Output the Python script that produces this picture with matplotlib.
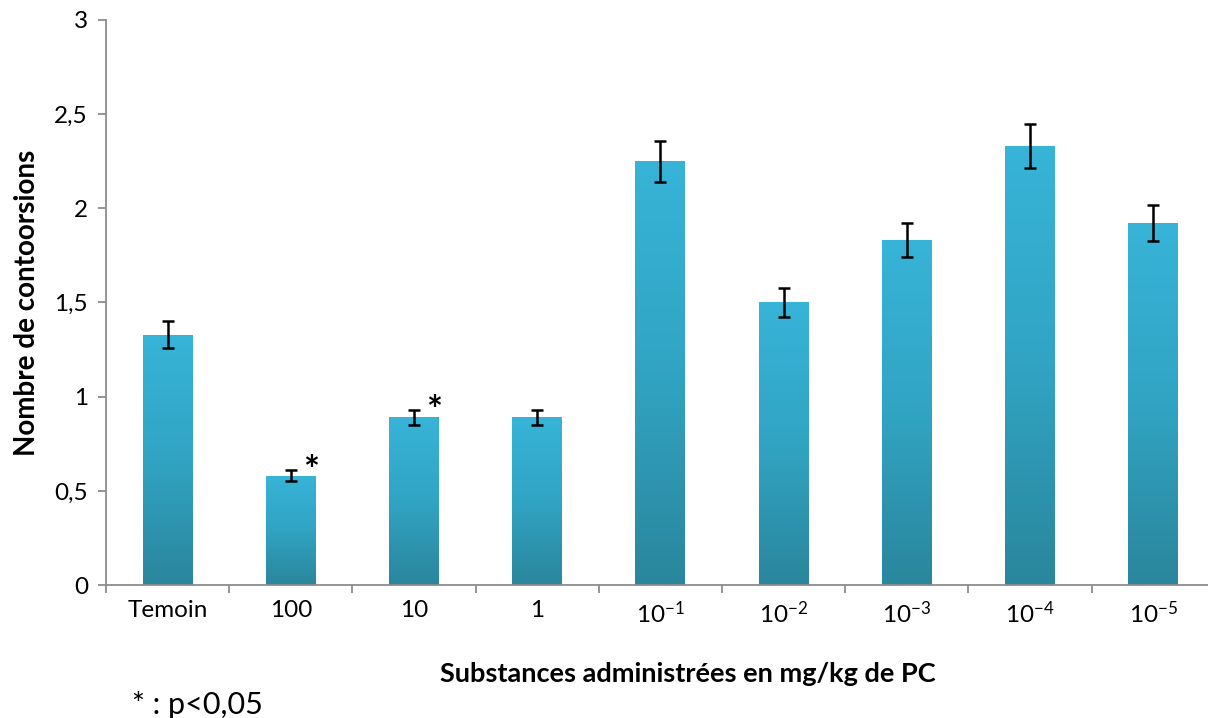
import numpy as np
import matplotlib.pyplot as plt
from matplotlib.colors import LinearSegmentedColormap
from matplotlib.patches import Rectangle

plt.rcParams['font.family'] = ['Lato', 'DejaVu Sans']
plt.rcParams['mathtext.fontset'] = 'custom'
plt.rcParams['mathtext.rm'] = 'Lato'

labels = ['Temoin', '100', '10', '1', r'$\mathregular{10^{-1}}$', r'$\mathregular{10^{-2}}$',
          r'$\mathregular{10^{-3}}$', r'$\mathregular{10^{-4}}$', r'$\mathregular{10^{-5}}$']
values = [1.33, 0.58, 0.89, 0.89, 2.25, 1.50, 1.83, 2.33, 1.92]
errors = [0.07, 0.03, 0.04, 0.04, 0.11, 0.075, 0.09, 0.115, 0.095]
signif = [False, True, True, False, False, False, False, False, False]

fig = plt.figure(figsize=(12.08, 7.18), dpi=100)
ax = fig.add_axes([0.0877, 0.1852, 0.918, 0.787])

x = np.arange(len(values))
w = 0.405
cmap = LinearSegmentedColormap.from_list('bar', ['#2a869c', '#31a4c3', '#37b4d8'])
grad = np.linspace(0, 1, 256).reshape(-1, 1)

# bars filled with a vertical gradient, clipped to each rectangle
for xi, v in zip(x, values):
    rect = Rectangle((xi - w / 2, 0), w, v, facecolor='none', edgecolor='none')
    ax.add_patch(rect)
    im = ax.imshow(grad, cmap=cmap, aspect='auto', origin='lower',
                   extent=[xi - w / 2, xi + w / 2, 0, v], zorder=2)
    im.set_clip_path(rect)

ax.errorbar(x, values, yerr=errors, fmt='none', ecolor='black', elinewidth=1.8,
            capsize=4.2, capthick=1.8, zorder=3)

for xi, v, e, s in zip(x, values, errors, signif):
    if s:
        ax.text(xi + 0.165, v + e - 0.01, '*', fontsize=27, fontweight='bold',
                ha='center', va='center', zorder=4)

ax.set_xlim(-0.5, len(values) - 0.5)
ax.set_ylim(0, 3)
ax.set_yticks(np.arange(0, 3.01, 0.5))
ax.set_yticklabels(['0', '0,5', '1', '1,5', '2', '2,5', '3'])
ax.set_xticks(x)
ax.set_xticklabels(labels)
ax.set_xticks(np.arange(-0.5, len(values), 1), minor=True)

for side in ['top', 'right']:
    ax.spines[side].set_visible(False)
for side in ['left', 'bottom']:
    ax.spines[side].set_color('#8c8c8c')
    ax.spines[side].set_linewidth(1.3)

ax.tick_params(axis='y', length=6, width=1.3, color='#8c8c8c', labelsize=17.5, pad=7)
ax.tick_params(axis='x', which='major', length=0, labelsize=17.5, pad=11)
ax.tick_params(axis='x', which='minor', length=6, width=1.3, color='#8c8c8c')

ax.set_ylabel('Nombre de contoorsions', fontsize=20, fontweight='bold', labelpad=10)
fig.text(0.5695, 0.061, 'Substances administrées en mg/kg de PC', fontsize=19.5,
         fontweight='bold', ha='center', va='center')
fig.text(0.109, 0.018, '* : p<0,05', fontsize=22, ha='left', va='center')

fig.savefig('out.png', dpi=100)
